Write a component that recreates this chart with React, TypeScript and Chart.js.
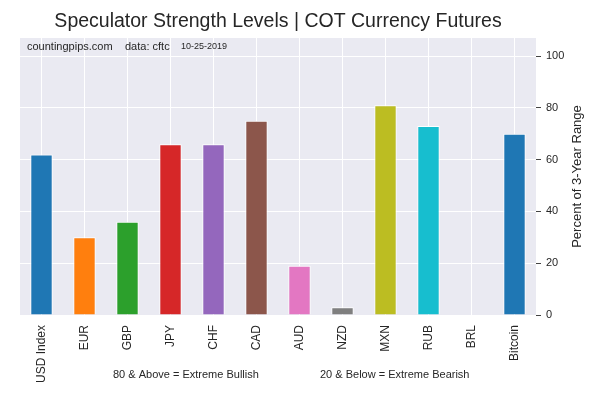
import React, { useEffect, useRef } from 'react';
import { Chart, registerables, Plugin } from 'chart.js';

Chart.register(...registerables);

// Data
const currencies = ['USD Index', 'EUR', 'GBP', 'JPY', 'CHF', 'CAD', 'AUD', 'NZD', 'MXN', 'RUB', 'BRL', 'Bitcoin'];
const strength = [62, 30, 36, 66, 66, 75, 19, 3, 81, 73, 0, 70];
const barColors = ['#1f77b4', '#ff7f0e', '#2ca02c', '#d62728', '#9467bd', '#8c564b', '#e377c2', '#7f7f7f', '#bcbd22', '#17becf', '#1f77b4', '#1f77b4'];
const yTicks = [0, 20, 40, 60, 80, 100];

const FONT = '"Liberation Sans", Arial, sans-serif';
const TEXT = '#262626';

// gray plot background + title and extra texts
const decorPlugin: Plugin<'bar'> = {
    id: 'decor',
    beforeDraw(chart) {
        const { ctx, chartArea } = chart;
        ctx.save();
        ctx.fillStyle = '#eaeaf2';
        ctx.fillRect(chartArea.left, chartArea.top, chartArea.right - chartArea.left, chartArea.bottom - chartArea.top);
        ctx.restore();
    },
    afterDraw(chart) {
        const { ctx, chartArea } = chart;
        ctx.save();
        ctx.fillStyle = TEXT;
        ctx.textBaseline = 'middle';

        // title, centred over the plot
        ctx.textAlign = 'center';
        ctx.font = `19.5px ${FONT}`;
        ctx.fillText('Speculator Strength Levels | COT Currency Futures', (chartArea.left + chartArea.right) / 2, 22);

        ctx.textAlign = 'left';
        ctx.font = `11px ${FONT}`;
        ctx.fillText('countingpips.com', 27, 47);
        ctx.fillText('data: cftc', 125, 47);
        ctx.font = `9px ${FONT}`;
        ctx.fillText('10-25-2019', 181, 47);

        ctx.font = `11px ${FONT}`;
        ctx.fillText('80 & Above = Extreme Bullish', 113, 375);
        ctx.fillText('20 & Below = Extreme Bearish', 320, 375);

        // y title, reads bottom to top
        ctx.font = `13px ${FONT}`;
        ctx.textAlign = 'center';
        ctx.translate(577, (chartArea.top + chartArea.bottom) / 2);
        ctx.rotate(-Math.PI / 2);
        ctx.fillText('Percent of 3-Year Range', 0, 0);
        ctx.restore();
    },
};

const App: React.FC = () => {
    const ref = useRef<HTMLCanvasElement>(null);

    useEffect(() => {
        if (!ref.current) return;
        document.body.style.margin = '0';

        const chart = new Chart(ref.current, {
            type: 'bar',
            data: {
                labels: currencies,
                datasets: [
                    {
                        data: strength,
                        backgroundColor: barColors,
                        borderColor: '#ffffff',
                        borderWidth: (c: any) => (c.raw === 0 ? 0 : 1),
                        barPercentage: 0.52,
                        categoryPercentage: 1,
                    },
                ],
            },
            options: {
                animation: false,
                responsive: true,
                maintainAspectRatio: false,
                layout: { padding: { left: 20, right: 0, top: 38, bottom: 0 } },
                plugins: {
                    legend: { display: false },
                    tooltip: { enabled: false },
                    title: { display: false },
                },
                scales: {
                    x: {
                        grid: { color: '#ffffff', lineWidth: 1, offset: false, drawTicks: false },
                        border: { display: false },
                        ticks: {
                            color: TEXT,
                            font: { family: FONT, size: 12 },
                            minRotation: 90,
                            maxRotation: 90,
                            padding: 10,
                            autoSkip: false,
                        },
                        afterFit: (s: any) => { s.height = 85; },
                    },
                    y: {
                        position: 'right',
                        min: 0,
                        max: 107,
                        grid: { color: '#ffffff', lineWidth: 1, tickColor: '#444444', tickLength: 5 },
                        border: { display: false },
                        ticks: {
                            color: TEXT,
                            font: { family: FONT, size: 11 },
                            padding: 5,
                        },
                        afterBuildTicks: (s: any) => { s.ticks = yTicks.map(v => ({ value: v })); },
                        afterFit: (s: any) => { s.width = 64; },
                    },
                },
            },
            plugins: [decorPlugin],
        });

        return () => chart.destroy();
    }, []);

    return (
        <div style={{ position: 'fixed', left: 0, top: 0, width: 600, height: 400 }}>
            <canvas ref={ref}></canvas>
        </div>
    );
};

export default App;
